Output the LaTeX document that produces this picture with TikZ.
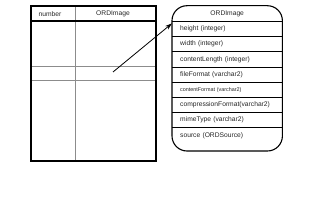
\documentclass[tikz,border=0pt]{standalone}
\usepackage{fontspec}
\setmainfont{Liberation Sans}
\usetikzlibrary{arrows.meta, positioning}

\begin{document}
\begin{tikzpicture}[
    x=1pt, y=1pt,
    frame/.style={draw, line width=1.1pt},
    gridline/.style={draw=black!45, line width=0.7pt},
    sep/.style={draw, line width=0.8pt},
    label/.style={inner sep=0pt, text=black!85, font=\fontsize{6.7}{7}\selectfont},
    field/.style={
        rectangle, minimum height=14.8pt, inner sep=0pt, inner xsep=8pt,
        text width=94pt, align=left, text=black!85,
        font=\fontsize{6.7}{7}\selectfont
    },
    arrow/.style={-{Stealth[length=7pt,width=4.5pt]}, line width=0.8pt}
]
\useasboundingbox (0,0) rectangle (320,-200);

% Relational table
\draw[gridline] (75,-6) -- (75,-161);
\draw[gridline] (31,-66) -- (156,-66);
\draw[gridline] (31,-80) -- (156,-80);
\draw[frame] (31,-21) -- (156,-21);
\draw[frame] (31,-6) rectangle (156,-161);
\node[label] (colnum) at (50,-14) {number};
\node[label] (colimg) at (113,-14) {ORDImage};

% Object type
\node[field, anchor=north west, text width=110pt, inner xsep=0pt,
      align=center, minimum height=15.3pt] (hdr) at (172,-5.7) {ORDImage};
\node[field, below=0pt of hdr]     (height)  {height (integer)};
\node[field, below=0pt of height]  (width)   {width (integer)};
\node[field, below=0pt of width]   (clength) {contentLength (integer)};
\node[field, below=0pt of clength] (fformat) {fileFormat (varchar2)};
\node[field, below=0pt of fformat, font=\fontsize{5.4}{6}\selectfont]
    (cformat) {contentFormat (varchar2)};
\node[field, below=0pt of cformat] (compr)   {compressionFormat(varchar2)};
\node[field, below=0pt of compr]   (mime)    {mimeType (varchar2)};
\node[field, below=0pt of mime]    (source)  {source (ORDSource)};

\foreach \r in {hdr,height,width,clength,fformat,cformat,compr,mime}
    \draw[sep] (\r.south west) -- (\r.south east);
\draw[frame, rounded corners=15pt]
    (hdr.north west) rectangle ([yshift=-8pt]source.south east);

% Reference from column to type
\coordinate (src) at (113,-72);
\draw[arrow] (src) -- ([yshift=-2pt]height.north west);

\end{tikzpicture}
\end{document}
